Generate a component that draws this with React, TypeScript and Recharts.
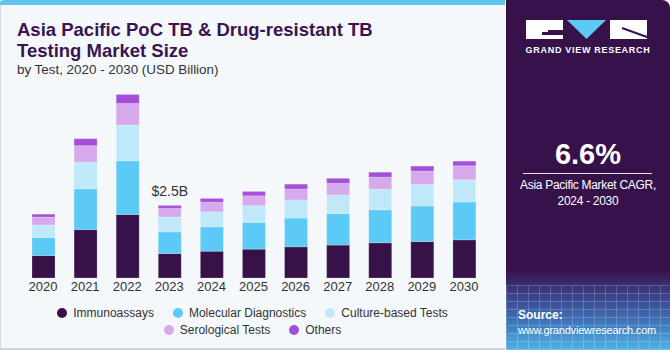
import { BarChart, Bar, XAxis, YAxis } from "recharts";

const years = ["2020", "2021", "2022", "2023", "2024", "2025", "2026", "2027", "2028", "2029", "2030"];
const immunoassays = [0.77, 1.66, 2.18, 0.84, 0.92, 0.99, 1.07, 1.13, 1.21, 1.25, 1.31];
const molecular = [0.62, 1.4, 1.84, 0.74, 0.83, 0.92, 0.99, 1.08, 1.13, 1.22, 1.3];
const culture = [0.43, 0.91, 1.23, 0.51, 0.52, 0.57, 0.62, 0.64, 0.71, 0.74, 0.76];
const serological = [0.27, 0.57, 0.74, 0.3, 0.33, 0.34, 0.37, 0.4, 0.41, 0.46, 0.48];
const others = [0.1, 0.24, 0.31, 0.1, 0.13, 0.15, 0.17, 0.17, 0.17, 0.17, 0.16];

const calloutYear = "2023";
const calloutText = "$2.5B";

const series = [
  { key: "immunoassays", name: "Immunoassays", color: "#371248" },
  { key: "molecular", name: "Molecular Diagnostics", color: "#5ccaf6" },
  { key: "culture", name: "Culture-based Tests", color: "#bfe9f9" },
  { key: "serological", name: "Serological Tests", color: "#d5a9ec" },
  { key: "others", name: "Others", color: "#a44fd9" },
];

const data = years.map((year, i) => ({
  year,
  immunoassays: immunoassays[i],
  molecular: molecular[i],
  culture: culture[i],
  serological: serological[i],
  others: others[i],
}));

const font = "'Liberation Sans', Arial, sans-serif";

// only the 2023 bar gets the total callout
const CalloutLabel = (props: any) => {
  const { x, y, width, index } = props;
  if (data[index]?.year !== calloutYear) return null;
  return (
    <text x={x + width / 2} y={y - 9} textAnchor="middle" fontSize={14} fill="#333" fontFamily={font}>
      {calloutText}
    </text>
  );
};

const LegendItem = ({ name, color }: { name: string; color: string }) => (
  <div style={{ display: "flex", alignItems: "center", gap: 6 }}>
    <div style={{ width: 10, height: 10, borderRadius: "50%", background: color }} />
    <span>{name}</span>
  </div>
);

const Logo = () => (
  <svg width={122} height={20} style={{ position: "absolute", left: 526, top: 20 }}>
    <rect x={0} y={0} width={37} height={19} fill="#fff" />
    <rect x={16} y={10} width={21} height={5} fill="#37114a" />
    <rect x={16} y={8} width={6} height={4} fill="#fff" />
    <polygon points="41,0 80,0 60.5,19" fill="#5ccaf6" />
    <rect x={84} y={0} width={37} height={19} fill="#fff" />
    <line x1={96} y1={8} x2={121} y2={17} stroke="#37114a" strokeWidth={2} />
  </svg>
);

export default function App() {
  return (
    <div style={{ position: "absolute", left: 0, top: 0, width: 670, height: 350, background: "#fff", fontFamily: font, overflow: "hidden" }}>
      {/* left panel */}
      <div style={{ position: "absolute", left: 0, top: 0, width: 504, height: 348, background: "#f4f8fb", borderLeft: "1px solid #d6d9dc", borderBottom: "2px solid #cfd2d5" }} />
      <div style={{ position: "absolute", left: 0, top: 0, width: 505, height: 5, background: "#5ec4ee", borderTopLeftRadius: 4 }} />

      <div style={{ position: "absolute", left: 17, top: 19, fontSize: 18.5, lineHeight: "21px", fontWeight: 700, color: "#3a1450", width: 480 }}>
        Asia Pacific PoC TB &amp; Drug-resistant TB
        <br />
        Testing Market Size
      </div>
      <div style={{ position: "absolute", left: 17, top: 62, fontSize: 13.4, lineHeight: "16px", color: "#333" }}>
        by Test, 2020 - 2030 (USD Billion)
      </div>

      <div style={{ position: "absolute", left: 0, top: 0 }}>
        <BarChart width={505} height={300} data={data} margin={{ top: 74, right: 20, left: 22, bottom: 2 }} barCategoryGap={0}>
          <XAxis
            dataKey="year"
            axisLine={false}
            tickLine={false}
            tickSize={0}
            tickMargin={4}
            height={20}
            interval={0}
            tick={{ fill: "#333", fontSize: 13, fontFamily: font }}
          />
          <YAxis hide domain={[0, 7]} />
          {series.map((s, i) => (
            <Bar
              key={s.key}
              dataKey={s.key}
              name={s.name}
              stackId="a"
              fill={s.color}
              barSize={23}
              stroke="rgba(255,255,255,0.35)"
              strokeWidth={0.6}
              isAnimationActive={false}
              label={i === series.length - 1 ? CalloutLabel : undefined}
            />
          ))}
        </BarChart>
      </div>

      {/* legend */}
      <div style={{ position: "absolute", left: 0, width: 505, top: 304, fontSize: 12, color: "#333" }}>
        <div style={{ display: "flex", justifyContent: "center", gap: 19, height: 17, alignItems: "center" }}>
          {series.slice(0, 3).map((s) => (
            <LegendItem key={s.key} name={s.name} color={s.color} />
          ))}
        </div>
        <div style={{ display: "flex", justifyContent: "center", gap: 19, height: 17, alignItems: "center" }}>
          {series.slice(3).map((s) => (
            <LegendItem key={s.key} name={s.name} color={s.color} />
          ))}
        </div>
      </div>

      {/* right panel */}
      <div
        style={{
          position: "absolute",
          left: 506,
          top: 0,
          width: 164,
          height: 350,
          borderTopRightRadius: 8,
          background: "linear-gradient(to bottom, #37114a 0%, #37114a 77%, #3b3f86 84%, #3f7cbf 93%, #4fb2e6 100%)",
        }}
      />
      <div
        style={{
          position: "absolute",
          left: 506,
          top: 285,
          width: 164,
          height: 65,
          opacity: 0.2,
          backgroundImage:
            "repeating-linear-gradient(0deg, #fff 0px, #fff 1px, transparent 1px, transparent 8px), repeating-linear-gradient(90deg, #fff 0px, #fff 1px, transparent 1px, transparent 11px)",
        }}
      />
      <Logo />
      <div style={{ position: "absolute", left: 506, width: 164, top: 45, textAlign: "center", color: "#fff", fontSize: 9, fontWeight: 700, letterSpacing: 0.7 }}>
        GRAND VIEW RESEARCH
      </div>
      <div style={{ position: "absolute", left: 506, width: 164, top: 138, textAlign: "center", color: "#fff", fontSize: 29, fontWeight: 700, lineHeight: "32px" }}>
        6.6%
      </div>
      <div style={{ position: "absolute", left: 523, width: 129, top: 173, height: 1, background: "#e8e0ee" }} />
      <div style={{ position: "absolute", left: 506, width: 164, top: 178, textAlign: "center", color: "#fff", fontSize: 12, lineHeight: "15.5px", letterSpacing: -0.3 }}>
        Asia Pacific Market CAGR,
        <br />
        2024 - 2030
      </div>
      <div style={{ position: "absolute", left: 518, top: 308, color: "#fff", fontSize: 11, lineHeight: "15px", letterSpacing: -0.2 }}>
        <div style={{ fontWeight: 700, fontSize: 12, letterSpacing: 0 }}>Source:</div>
        <div>www.grandviewresearch.com</div>
      </div>
    </div>
  );
}
